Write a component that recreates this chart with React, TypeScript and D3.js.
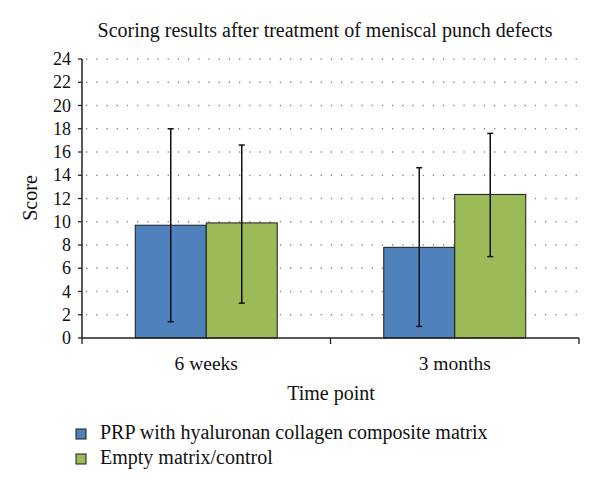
import React, { useEffect, useRef } from 'react'
import * as d3 from 'd3'

// chart values
const timePoints = ['6 weeks', '3 months']
const seriesNames = ['PRP with hyaluronan collagen composite matrix', 'Empty matrix/control']
const seriesColors = ['#4F81BD', '#9BBB59']
const prpMeans = [9.7, 7.8]
const prpLow = [1.4, 1.0]
const prpHigh = [18.0, 14.65]
const controlMeans = [9.9, 12.35]
const controlLow = [3.0, 7.0]
const controlHigh = [16.6, 17.6]
const yTicks = [0, 2, 4, 6, 8, 10, 12, 14, 16, 18, 20, 22, 24]

const FONT = '"Liberation Serif", serif'

const App = () => {
  const svgRef = useRef<SVGSVGElement>(null)

  useEffect(() => {
    const svg = d3.select(svgRef.current)
    svg.selectAll('*').remove()

    const left = 82
    const right = 579
    const top = 59
    const bottom = 338

    const y = d3.scaleLinear().domain([0, 24]).range([bottom, top])
    const x0 = d3.scaleBand().domain(timePoints).range([left, right])
    const x1 = d3
      .scaleBand()
      .domain(seriesNames)
      .range([0, x0.bandwidth()])
      .paddingInner(0)
      .paddingOuter(0.75)

    const rows = timePoints.map((t, i) => ({
      t,
      bars: [
        { s: seriesNames[0], v: prpMeans[i], lo: prpLow[i], hi: prpHigh[i], c: seriesColors[0] },
        { s: seriesNames[1], v: controlMeans[i], lo: controlLow[i], hi: controlHigh[i], c: seriesColors[1] },
      ],
    }))

    // title
    svg
      .append('text')
      .attr('x', 325)
      .attr('y', 37)
      .attr('text-anchor', 'middle')
      .style('font-family', FONT)
      .style('font-size', '20px')
      .attr('fill', '#111')
      .text('Scoring results after treatment of meniscal punch defects')

    // dotted grid
    svg
      .append('g')
      .selectAll('line')
      .data(yTicks.filter((d) => d > 0))
      .join('line')
      .attr('x1', left + 4)
      .attr('x2', right)
      .attr('y1', (d) => y(d))
      .attr('y2', (d) => y(d))
      .attr('stroke', '#888')
      .attr('stroke-width', 1.3)
      .attr('stroke-dasharray', '1.3 8.9')

    // bars
    const groups = svg
      .append('g')
      .selectAll('g')
      .data(rows)
      .join('g')
      .attr('transform', (d) => `translate(${x0(d.t)},0)`)

    groups
      .selectAll('rect')
      .data((d) => d.bars)
      .join('rect')
      .attr('x', (d) => x1(d.s)!)
      .attr('y', (d) => y(d.v))
      .attr('width', x1.bandwidth())
      .attr('height', (d) => y(0) - y(d.v))
      .attr('fill', (d) => d.c)
      .attr('stroke', '#1a1a1a')
      .attr('stroke-width', 1)

    // error bars
    const err = groups
      .selectAll('g.err')
      .data((d) => d.bars)
      .join('g')
      .attr('class', 'err')
      .attr('transform', (d) => `translate(${x1(d.s)! + x1.bandwidth() / 2},0)`)
      .attr('stroke', '#111')
      .attr('stroke-width', 1.5)
    err
      .append('line')
      .attr('y1', (d) => y(d.lo))
      .attr('y2', (d) => y(d.hi))
    err
      .append('line')
      .attr('x1', -3)
      .attr('x2', 3)
      .attr('y1', (d) => y(d.hi))
      .attr('y2', (d) => y(d.hi))
    err
      .append('line')
      .attr('x1', -3)
      .attr('x2', 3)
      .attr('y1', (d) => y(d.lo))
      .attr('y2', (d) => y(d.lo))

    // y axis
    svg
      .append('line')
      .attr('x1', left)
      .attr('x2', left)
      .attr('y1', top)
      .attr('y2', bottom)
      .attr('stroke', '#222')
      .attr('stroke-width', 1.5)
    const yTick = svg
      .append('g')
      .selectAll('g')
      .data(yTicks)
      .join('g')
      .attr('transform', (d) => `translate(${left},${y(d)})`)
    yTick
      .append('line')
      .attr('x1', -4)
      .attr('x2', 0)
      .attr('stroke', '#222')
      .attr('stroke-width', 1.3)
    yTick
      .append('text')
      .attr('x', -11)
      .attr('dy', '0.34em')
      .attr('text-anchor', 'end')
      .style('font-family', FONT)
      .style('font-size', '18px')
      .attr('fill', '#111')
      .text((d) => d)

    // x axis
    svg
      .append('line')
      .attr('x1', left)
      .attr('x2', right)
      .attr('y1', bottom)
      .attr('y2', bottom)
      .attr('stroke', '#222')
      .attr('stroke-width', 1.5)
    const boundaries = [left, ...timePoints.map((t) => x0(t)! + x0.bandwidth())]
    svg
      .append('g')
      .selectAll('line')
      .data(boundaries)
      .join('line')
      .attr('x1', (d) => d)
      .attr('x2', (d) => d)
      .attr('y1', bottom)
      .attr('y2', bottom + 6)
      .attr('stroke', '#222')
      .attr('stroke-width', 1.3)

    svg
      .append('g')
      .selectAll('text')
      .data(timePoints)
      .join('text')
      .attr('x', (d) => x0(d)! + x0.bandwidth() / 2)
      .attr('y', 370)
      .attr('text-anchor', 'middle')
      .style('font-family', FONT)
      .style('font-size', '19.5px')
      .attr('fill', '#111')
      .text((d) => d)

    // axis titles
    svg
      .append('text')
      .attr('x', 331)
      .attr('y', 400)
      .attr('text-anchor', 'middle')
      .style('font-family', FONT)
      .style('font-size', '20px')
      .attr('fill', '#111')
      .text('Time point')

    svg
      .append('text')
      .attr('transform', `translate(37,198) rotate(-90)`)
      .attr('text-anchor', 'middle')
      .style('font-family', FONT)
      .style('font-size', '20px')
      .attr('fill', '#111')
      .text('Score')

    // legend
    const legend = svg.append('g')
    legend
      .selectAll('rect')
      .data(seriesNames)
      .join('rect')
      .attr('x', 76)
      .attr('y', (d, i) => 429 + i * 25)
      .attr('width', 10)
      .attr('height', 10)
      .attr('fill', (d, i) => seriesColors[i])
      .attr('stroke', '#1a1a1a')
      .attr('stroke-width', 1)
    legend
      .selectAll('text')
      .data(seriesNames)
      .join('text')
      .attr('x', 100)
      .attr('y', (d, i) => 439 + i * 25)
      .style('font-family', FONT)
      .style('font-size', '20px')
      .attr('fill', '#111')
      .text((d) => d)
  }, [])

  return (
    <svg
      ref={svgRef}
      width={600}
      height={489}
      style={{ position: 'absolute', left: 0, top: 0, background: '#fff' }}
    />
  )
}

export default App
